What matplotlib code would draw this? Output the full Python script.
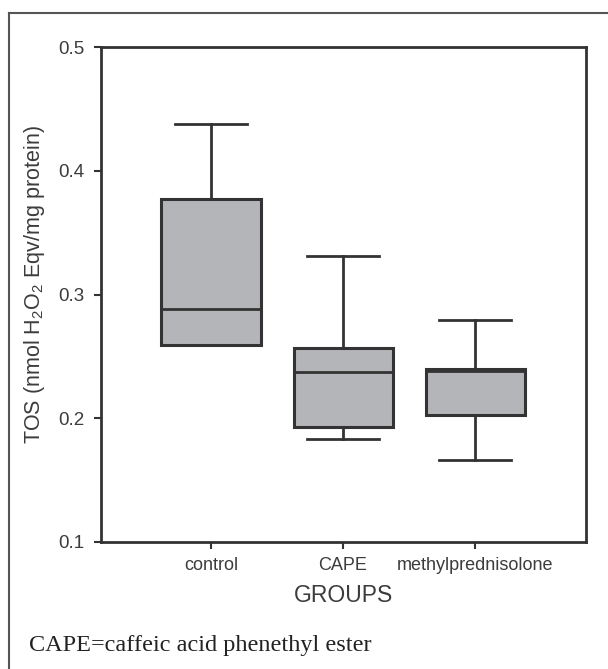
import matplotlib
matplotlib.use("Agg")
import matplotlib.pyplot as plt
from matplotlib.lines import Line2D

# values
groups = ["control", "CAPE", "methylprednisolone"]
whisker_low = [0.259, 0.183, 0.166]
q1 = [0.259, 0.193, 0.203]
median = [0.288, 0.237, 0.238]
q3 = [0.377, 0.257, 0.240]
whisker_high = [0.438, 0.331, 0.279]
y_ticks = [0.1, 0.2, 0.3, 0.4, 0.5]

plt.rcParams['font.family'] = ['Liberation Sans', 'DejaVu Sans']
plt.rcParams['mathtext.fontset'] = 'custom'
plt.rcParams['mathtext.rm'] = 'Liberation Sans'
plt.rcParams['mathtext.it'] = 'Liberation Sans:italic'

line_col = '#333333'
text_col = '#3c3c3c'
fill_col = '#b4b5b9'

fig = plt.figure(figsize=(6.08, 6.69), dpi=100)
ax = fig.add_axes([101 / 608, 1 - 542 / 669, 485 / 608, 495 / 669])

stats = []
for i, g in enumerate(groups):
    stats.append(dict(label=g, whislo=whisker_low[i], q1=q1[i], med=median[i],
                      q3=q3[i], whishi=whisker_high[i], fliers=[]))

ax.bxp(stats, positions=[1, 2, 3], widths=0.75, patch_artist=True,
       showfliers=False,
       boxprops=dict(facecolor=fill_col, edgecolor=line_col, linewidth=2.2),
       medianprops=dict(color=line_col, linewidth=2.0),
       whiskerprops=dict(color=line_col, linewidth=2.0),
       capprops=dict(color=line_col, linewidth=2.0),
       capwidths=0.54)

ax.set_xlim(0.167, 3.84)
ax.set_ylim(0.1, 0.5)
ax.set_yticks(y_ticks)
ax.set_yticklabels(["{:.1f}".format(v) for v in y_ticks])
ax.set_xticks([1, 2, 3])
ax.set_xticklabels(groups)

for s in ax.spines.values():
    s.set_linewidth(2.0)
    s.set_color(line_col)

ax.tick_params(axis='y', direction='out', length=5, width=1.5, color=line_col,
               labelsize=13.5, labelcolor=text_col, pad=7)
ax.tick_params(axis='x', direction='out', length=5, width=1.5, color=line_col,
               labelsize=13, labelcolor=text_col, pad=6)

ax.set_ylabel(r"TOS (nmol H$_2$O$_2$ Eqv/mg protein)", fontsize=15.5,
              color=text_col)
ax.yaxis.set_label_coords(-0.112, 0.52)
ax.set_xlabel("GROUPS", fontsize=16.5, color=text_col, labelpad=7)

# frame around the figure (top and left edges only visible)
fig.add_artist(Line2D([9 / 608, 1], [1 - 13 / 669, 1 - 13 / 669],
                      color='#555555', lw=1.5))
fig.add_artist(Line2D([9 / 608, 9 / 608], [0, 1 - 13 / 669],
                      color='#555555', lw=1.5))

fig.text(29 / 608, 1 - 645 / 669, "CAPE=caffeic acid phenethyl ester",
         family='Liberation Serif', fontsize=17.5, color='#222222',
         ha='left', va='center')

fig.savefig("out.png", dpi=100)
plt.close(fig)
